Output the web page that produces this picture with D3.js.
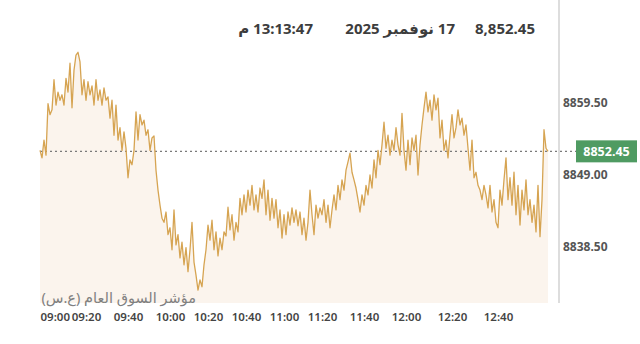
<!DOCTYPE html>
<html><head><meta charset="utf-8">
<script src="https://cdn.jsdelivr.net/npm/d3@7"></script>
<style>
html,body{margin:0;padding:0;background:#fff;}
svg{display:block;font-family:"Noto Sans","DejaVu Sans",sans-serif;}
</style></head>
<body><svg id="c" width="640" height="344"></svg>
<script>
// ---- data ----
const tickLabels = ["09:00","09:20","09:40","10:00","10:20","10:40","11:00","11:20","11:40","12:00","12:20","12:40"];
// number of samples recorded in each 20-minute slot (last slot is partial)
const samplesPerSlot = [23,21,21,19,19,19,19,21,21,23,23,26];
const seg1 = [8852.6,8851.5,8854.1,8851.9,8859.4,8857.8,8858.5,8862.9,8859.2,8861.1,8859.9,8860.7,8859.2,8863.1,8861.1,8865.3,8858.8,8864.3,8866.5,8866.9,8865.5,8860.7,8862.9];
const seg2 = [8859.9,8862.6,8860.7,8862.0,8859.2,8862.9,8859.9,8861.4,8859.2,8861.7,8859.9,8860.4,8857.3,8859.9,8854.8,8859.2,8854.1,8855.9,8852.6,8855.3,8852.9];
const seg3 = [8848.6,8851.2,8850.5,8852.6,8858.2,8854.1,8857.8,8856.3,8857.0,8854.8,8855.6,8852.6,8854.4,8854.7,8849.7,8846.8,8844.6,8842.7,8842.1,8843.6,8840.3];
const seg4 = [8841.3,8838.1,8843.9,8838.8,8840.3,8836.9,8839.2,8835.9,8838.4,8834.9,8838.1,8842.1,8836.3,8834.4,8832.2,8833.7,8832.7,8835.9,8838.1];
const seg5 = [8841.7,8839.5,8842.4,8838.1,8840.7,8837.2,8839.8,8838.1,8840.7,8840.1,8844.3,8841.0,8843.2,8839.5,8842.1,8840.7,8845.6,8843.2,8846.1];
const seg6 = [8843.6,8846.8,8844.6,8847.5,8843.9,8846.1,8843.6,8847.1,8845.6,8848.3,8843.2,8846.8,8842.4,8845.6,8842.7,8845.4,8841.3,8843.9,8839.8];
const seg7 = [8843.2,8840.3,8843.6,8841.7,8844.2,8842.1,8843.9,8841.6,8843.6,8840.3,8842.7,8839.5,8842.1,8846.8,8843.2,8840.3,8844.6,8842.7,8844.2];
const seg8 = [8843.2,8845.4,8842.1,8844.6,8841.3,8843.9,8846.1,8843.9,8847.5,8845.4,8848.3,8846.8,8849.7,8850.9,8852.2,8849.4,8848.3,8847.1,8845.4,8843.6,8846.1];
const seg9 = [8844.6,8847.5,8846.1,8849.0,8847.1,8851.2,8848.6,8852.6,8850.5,8853.4,8856.7,8852.9,8854.8,8851.9,8854.1,8852.6,8855.9,8853.4,8851.9,8858.0,8852.6];
const seg10 = [8849.7,8854.1,8850.5,8854.4,8852.6,8854.8,8849.0,8853.4,8856.3,8858.8,8861.1,8858.2,8859.9,8857.0,8860.7,8858.5,8860.2,8854.4,8857.0,8852.6,8854.1,8851.5,8854.8];
const seg11 = [8857.8,8854.4,8855.9,8858.5,8856.3,8857.3,8854.8,8856.3,8852.9,8849.7,8854.1,8848.6,8849.4,8847.5,8846.8,8845.4,8847.5,8846.1,8844.2,8847.5,8843.6,8845.4,8842.1];
const seg12 = [8841.3,8846.8,8844.6,8848.3,8851.5,8845.4,8848.6,8844.6,8849.4,8843.2,8847.5,8841.7,8846.8,8843.9,8848.3,8843.2,8845.4,8842.1,8844.6,8840.7,8847.5,8840.0,8845.4,8855.6,8852.9,8852.45];
const yTicks = [8838.5, 8849.0, 8859.5];
const lastValue = 8852.45;
const headerPrice = "8,852.45";
const headerDate = "17 نوفمبر 2025";
const headerTime = "13:13:47 م";
const indexName = "مؤشر السوق العام (ع.س)";

const values = [].concat(seg1,seg2,seg3,seg4,seg5,seg6,seg7,seg8,seg9,seg10,seg11,seg12);
const tickIdx = samplesPerSlot.slice(0,-1).reduce((a,c)=>{a.push(a[a.length-1]+c);return a;},[0]);

// ---- layout ----
const svg = d3.select("#c");
const L = 40, R = 548, T = 40, B = 303, borderX = 559;
const x = d3.scaleLinear().domain([0, values.length-1]).range([L, R]);
const y = d3.scaleLinear().domain([8830.33, 8868.69]).range([B, T]);

// area fill
svg.append("path").datum(values)
  .attr("d", d3.area().x((d,i)=>x(i)).y0(B).y1(d=>y(d)))
  .attr("fill","#fbf4ed");

// right border
svg.append("line").attr("x1",borderX).attr("x2",borderX).attr("y1",0).attr("y2",B)
  .attr("stroke","#d2d2d2").attr("stroke-width",1.5);

// dotted last price line
svg.append("line").attr("x1",L).attr("x2",576).attr("y1",y(lastValue)).attr("y2",y(lastValue))
  .attr("stroke","#7a7a7a").attr("stroke-width",1.2).attr("stroke-dasharray","2,3");

// price line
svg.append("path").datum(values)
  .attr("d", d3.line().x((d,i)=>x(i)).y(d=>y(d)))
  .attr("fill","none").attr("stroke","#d6a452").attr("stroke-width",1.3).attr("stroke-linejoin","round");

// y axis labels
const yAxis = d3.axisRight(y).tickValues(yTicks).tickFormat(d3.format(".2f")).tickSize(0).tickPadding(0);
const gy = svg.append("g").attr("transform",`translate(563,0)`).call(yAxis);
gy.select(".domain").remove();
gy.selectAll("text").attr("font-size",12).attr("font-weight",700).attr("fill","#555")
  .attr("font-family",'"Noto Sans",sans-serif');

// badge
const by = y(lastValue);
svg.append("rect").attr("x",576).attr("y",by-11).attr("width",61).attr("height",22).attr("fill","#4f9b62");
svg.append("text").attr("x",606.5).attr("y",by).attr("dy","0.36em").attr("text-anchor","middle")
  .attr("font-size",12.5).attr("font-weight",700).attr("fill","#fff").text(d3.format(".2f")(lastValue));

// x axis labels
const xAxis = d3.axisBottom(x).tickValues(tickIdx).tickFormat((d,i)=>tickLabels[i]).tickSize(0).tickPadding(0);
const gx = svg.append("g").attr("transform",`translate(0,313)`).call(xAxis);
gx.select(".domain").remove();
gx.selectAll("text").attr("font-size",11.5).attr("font-weight",600).attr("fill","#444")
  .attr("font-family",'"Noto Sans",sans-serif');
gx.selectAll(".tick").filter((d,i)=>i===0).select("text").attr("text-anchor","start");

// index name
svg.append("text").attr("x",196).attr("y",298).attr("dy","0.35em").attr("text-anchor","end")
  .attr("font-size",14.5).attr("fill","#808080").text(indexName);

// header
const hdr = svg.append("g").attr("font-size",15).attr("font-weight",700).attr("fill","#3d3d3d");
hdr.append("text").attr("x",535).attr("y",34).attr("text-anchor","end").text(headerPrice);
hdr.append("text").attr("x",455).attr("y",34).attr("direction","rtl").attr("text-anchor","start").text(headerDate);
hdr.append("text").attr("x",313).attr("y",34).attr("direction","rtl").attr("text-anchor","start").text(headerTime);
</script></body></html>
